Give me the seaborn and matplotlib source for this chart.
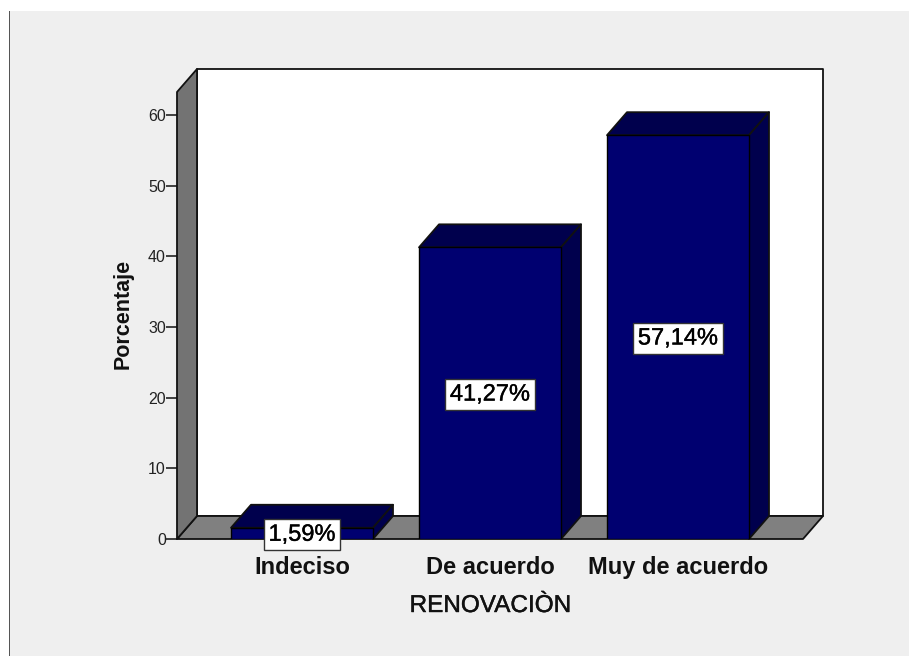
import matplotlib
matplotlib.use("Agg")
import matplotlib.pyplot as plt
import matplotlib.patheffects as pe
from matplotlib.patches import Polygon, Rectangle
import seaborn as sns
import pandas as pd

categories = ["Indeciso", "De acuerdo", "Muy de acuerdo"]
percentages = [1.59, 41.27, 57.14]
value_labels = ["1,59%", "41,27%", "57,14%"]
y_ticks = [0, 10, 20, 30, 40, 50, 60]
x_title = "RENOVACIÒN"
y_title = "Porcentaje"

W, H = 909, 656
sns.set_theme(style="white")
plt.rcParams["font.family"] = ["Liberation Sans", "DejaVu Sans"]

fig = plt.figure(figsize=(W / 100, H / 100), dpi=100, facecolor="white")
fig.add_artist(Rectangle((10 / W, 0), 1 - 10 / W, 1 - 11 / H, transform=fig.transFigure,
                         facecolor="#efefef", edgecolor="none", zorder=-5))
fig.add_artist(Rectangle((8.5 / W, 0), 1.5 / W, 1 - 11 / H, transform=fig.transFigure,
                         facecolor="#555555", edgecolor="none", zorder=-4))

ax = fig.add_axes([177 / W, 1 - 539 / H, (823 - 177) / W, (539 - 69) / H])
ax.patch.set_visible(False)

df = pd.DataFrame({"cat": categories, "pct": percentages})
sns.barplot(data=df, x="cat", y="pct", color="#000070", saturation=1, width=142 / 188,
            edgecolor="#000000", linewidth=1.0, ax=ax)

xl, xr = -125 / 188, 2 + 145 / 188
ymax = 470 / 7.067
ax.set_xlim(xl, xr)
ax.set_ylim(0, ymax)
DX, DY = 20 / 188, 23 / 7.067
edge = dict(edgecolor="#111111", linewidth=1.3, clip_on=False, joinstyle="round")

# back wall, floor, left wall
ax.add_patch(Rectangle((xl + DX, DY), xr - xl - DX, ymax - DY, facecolor="white", zorder=0.1, **edge))
ax.add_patch(Polygon([(xl, 0), (xl + DX, DY), (xr, DY), (xr - DX, 0)], facecolor="#808080", zorder=0.2, **edge))
ax.add_patch(Polygon([(xl, 0), (xl + DX, DY), (xl + DX, ymax), (xl, ymax - DY)], facecolor="#737373", zorder=0.3, **edge))

# 3D faces of each bar, derived from the front faces that seaborn drew
container = ax.containers[0]
for bar in container:
    x0, w, h = bar.get_x(), bar.get_width(), bar.get_height()
    x1 = x0 + w
    ax.add_patch(Polygon([(x0, h), (x0 + DX, h + DY), (x1 + DX, h + DY), (x1, h)],
                         facecolor="#00004d", zorder=2, **edge))
    ax.add_patch(Polygon([(x1, 0), (x1 + DX, DY), (x1 + DX, h + DY), (x1, h)],
                         facecolor="#00004d", zorder=2, **edge))
    bar.set_zorder(3)

semi = [pe.withStroke(linewidth=0.3, foreground="#111111")]
vlabels = ax.bar_label(container, labels=value_labels, label_type="center", fontsize=17, color="black",
                       zorder=6, clip_on=False,
                       bbox=dict(boxstyle="square,pad=0.2", facecolor="white", edgecolor="#333333", linewidth=1.0))
for t in vlabels:
    t.set_path_effects(semi)
    t.xyann = (0, -1)

for s in ax.spines.values():
    s.set_visible(False)
ax.set_yticks(y_ticks)
ax.tick_params(axis="y", length=8, width=1.1, color="#111111", labelsize=11.5, pad=0, left=True, labelcolor="#222222")
ax.tick_params(axis="x", length=0, labelsize=17, pad=12, labelcolor="#111111")
for t in ax.get_xticklabels():
    t.set_fontweight("bold")
ax.set_xlabel(x_title, fontsize=17.5, color="#111111")
ax.xaxis.label.set_path_effects(semi)
ax.set_ylabel(y_title, fontsize=15.5, fontweight="bold", color="#111111")
ax.xaxis.set_label_coords((490 - 177) / (823 - 177), -(606 - 539) / 470, transform=ax.transAxes)
ax.xaxis.label.set_va("center")
ax.yaxis.set_label_coords(-(177 - 123) / 646, (539 - 314) / 470, transform=ax.transAxes)
ax.yaxis.label.set_va("center")

fig.savefig("out.png", dpi=100, facecolor=fig.get_facecolor())
